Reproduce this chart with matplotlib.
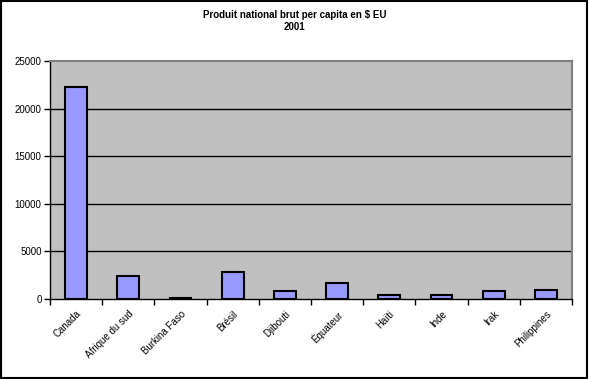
import matplotlib
matplotlib.use("Agg")
import matplotlib.pyplot as plt
import numpy as np

pays = ["Canada", "Afrique du sud", "Burkina Faso", "Brésil", "Djibouti",
        "Équateur", "Haïti", "Inde", "Irak", "Philippines"]
pnb = [22300, 2450, 150, 2870, 810, 1650, 420, 420, 810, 950]
yticks = [0, 5000, 10000, 15000, 20000, 25000]

plt.rcParams['font.family'] = ['Liberation Sans', 'DejaVu Sans']

fig = plt.figure(figsize=(5.89, 3.79), dpi=100)
fig.patch.set_facecolor('white')
# cadre extérieur
fig.add_artist(plt.Rectangle((0.002, 0.003), 0.995, 0.994, transform=fig.transFigure,
                             fill=False, edgecolor='black', linewidth=1.5))

ax = fig.add_axes([50 / 589, 1 - 299 / 379, 522 / 589, 238 / 379])
ax.set_facecolor('#C0C0C0')

x = np.arange(len(pays))
ax.bar(x, pnb, width=0.42, color='#9999FF', edgecolor='black', linewidth=1.5, zorder=3)

ax.set_xlim(-0.5, len(pays) - 0.5)
ax.set_ylim(0, 25000)
ax.set_yticks(yticks)
ax.set_yticklabels([str(v) for v in yticks], fontsize=7)
for v in yticks[1:-1]:
    ax.axhline(v, color='black', linewidth=1, zorder=1)

ax.set_xticks(x)
ax.set_xticklabels(pays, rotation=45, ha='right', rotation_mode='anchor', fontsize=7)
ax.tick_params(axis='x', length=0, pad=7)
ax.set_xticks(np.arange(-0.5, len(pays)), minor=True)
ax.tick_params(axis='x', which='minor', length=4, direction='out', width=1)
ax.tick_params(axis='y', length=4, direction='out', width=1, pad=2)

for s in ['top', 'right']:
    ax.spines[s].set_color('#808080')
    ax.spines[s].set_linewidth(1.5)
for s in ['left', 'bottom']:
    ax.spines[s].set_color('black')
    ax.spines[s].set_linewidth(1)

fig.text(0.5, 1 - 21 / 379, "Produit national brut per capita en $ EU\n2001",
         ha='center', va='center', fontsize=7, fontweight='bold', linespacing=1.35)

fig.savefig("out.png", dpi=100)
